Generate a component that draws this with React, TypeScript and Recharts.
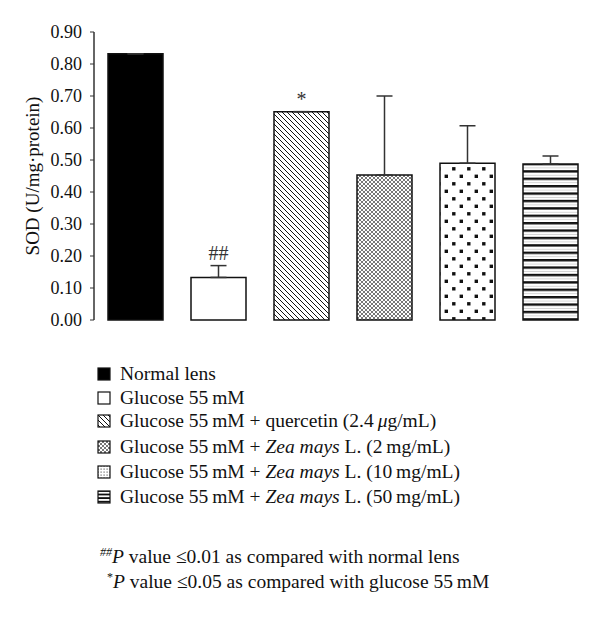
import React from "react";
import {
  BarChart,
  Bar,
  XAxis,
  YAxis,
  Cell,
  ErrorBar,
  ReferenceDot,
  Label,
} from "recharts";

const categories = [
  "Normal lens",
  "Glucose 55 mM",
  "Glucose 55 mM + quercetin (2.4 μg/mL)",
  "Glucose 55 mM + Zea mays L. (2 mg/mL)",
  "Glucose 55 mM + Zea mays L. (10 mg/mL)",
  "Glucose 55 mM + Zea mays L. (50 mg/mL)",
];
const legendPrefix = [
  "Normal lens",
  "Glucose 55\u2009mM",
  "Glucose 55\u2009mM + quercetin (2.4\u2009",
  "Glucose 55\u2009mM + ",
  "Glucose 55\u2009mM + ",
  "Glucose 55\u2009mM + ",
];
const legendItalic = ["", "", "μ", "Zea mays", "Zea mays", "Zea mays"];
const legendSuffix = [
  "",
  "",
  "g/mL)",
  " L. (2\u2009mg/mL)",
  " L. (10\u2009mg/mL)",
  " L. (50\u2009mg/mL)",
];
const sodValues = [0.832, 0.133, 0.651, 0.453, 0.49, 0.4875];
const sodErrors = [0, 0.037, 0, 0.247, 0.117, 0.025];
const sigMarks = ["", "##", "*", "", "", ""];
const yTicks = [0, 0.1, 0.2, 0.3, 0.4, 0.5, 0.6, 0.7, 0.8, 0.9];
const fills = [
  "#000000",
  "#ffffff",
  "url(#diag)",
  "url(#cross)",
  "url(#dots)",
  "url(#stripes)",
];

const data = categories.map((c, i) => ({
  name: c,
  value: sodValues[i],
  err: [0, sodErrors[i]],
}));

const FONT = "'Liberation Serif', 'Times New Roman', serif";

const Patterns = () => (
  <defs>
    <pattern id="diag" width="5" height="5" patternUnits="userSpaceOnUse">
      <rect width="5" height="5" fill="#fff" />
      <path d="M0,0 L5,5 M-1,4 L1,6 M4,-1 L6,1" stroke="#111" strokeWidth="1" />
    </pattern>
    <pattern id="cross" width="4" height="4" patternUnits="userSpaceOnUse">
      <rect width="4" height="4" fill="#fff" />
      <path d="M0,0 L4,4 M4,0 L0,4" stroke="#555" strokeWidth="0.8" />
    </pattern>
    <pattern id="dots" width="15" height="15" patternUnits="userSpaceOnUse">
      <rect width="15" height="15" fill="#fff" />
      <rect x="2.1" y="2.1" width="3.4" height="3.4" fill="#111" />
      <rect x="9.6" y="9.6" width="3.4" height="3.4" fill="#111" />
    </pattern>
    <pattern id="stripes" width="8" height="7.4" patternUnits="userSpaceOnUse">
      <rect width="8" height="7.4" fill="#fff" />
      <rect y="0" width="8" height="2.4" fill="#111" />
      <rect y="4.6" width="8" height="0.6" fill="#bbb" />
    </pattern>
    <pattern id="sdots" width="3" height="3" patternUnits="userSpaceOnUse">
      <rect width="3" height="3" fill="#fff" />
      <rect x="0.5" y="0.5" width="1.2" height="1.2" fill="#666" />
    </pattern>
    <pattern id="sstripes" width="4" height="3.6" patternUnits="userSpaceOnUse">
      <rect width="4" height="3.6" fill="#fff" />
      <rect y="0" width="4" height="1.8" fill="#111" />
    </pattern>
  </defs>
);

const swatchFills = [
  "#000000",
  "#ffffff",
  "url(#diag)",
  "url(#cross)",
  "url(#sdots)",
  "url(#sstripes)",
];

const Swatch = ({ fill }: { fill: string }) => (
  <svg width="14" height="14" style={{ display: "block" }}>
    <rect x="1" y="1" width="12" height="12" fill={fill} stroke="#111" strokeWidth="1.2" />
  </svg>
);

const legendCenters = [374, 398, 421, 447, 472, 497];

export default function App() {
  return (
    <div style={{ position: "absolute", left: 0, top: 0, width: 600, height: 620, background: "#fff" }}>
      <svg width="0" height="0" style={{ position: "absolute" }}>
        <Patterns />
      </svg>
      <BarChart
        width={600}
        height={620}
        data={data}
        margin={{ top: 32, right: 8, left: 0, bottom: 300 }}
        barCategoryGap={14}
      >
        <XAxis
          dataKey="name"
          tick={false}
          tickLine={false}
          height={0}
          axisLine={{ stroke: "#333", strokeWidth: 1.5 }}
        />
        <YAxis
          width={94}
          domain={[0, 0.9]}
          ticks={yTicks}
          tickFormatter={(v: number) => v.toFixed(2)}
          tick={{ fontFamily: FONT, fontSize: 18, fill: "#111" }}
          tickSize={4}
          tickMargin={8}
          tickLine={{ stroke: "#333" }}
          axisLine={{ stroke: "#333", strokeWidth: 1.5 }}
          interval={0}
        >
          <Label
            value="SOD (U/mg·protein)"
            angle={-90}
            position="insideLeft"
            offset={32}
            style={{ fontFamily: FONT, fontSize: 19, fill: "#111", textAnchor: "middle" }}
          />
        </YAxis>
        <Bar dataKey="value" isAnimationActive={false} stroke="#111" strokeWidth={1.5}>
          {data.map((d, i) => (
            <Cell key={d.name} fill={fills[i]} />
          ))}
          <ErrorBar dataKey="err" width={8} stroke="#333" strokeWidth={1.5} direction="y" />
        </Bar>
        {categories.map((c, i) =>
          sigMarks[i] ? (
            <ReferenceDot
              key={c}
              x={c}
              y={sodValues[i] + sodErrors[i]}
              r={0}
              fill="none"
              stroke="none"
              label={{
                value: sigMarks[i],
                position: "top",
                offset: 6,
                style: { fontFamily: FONT, fontSize: 20, fill: "#333" },
              }}
            />
          ) : null
        )}
      </BarChart>
      {categories.map((c, i) => (
        <div
          key={c}
          style={{
            position: "absolute",
            left: 97,
            top: legendCenters[i] - 11,
            height: 22,
            display: "flex",
            alignItems: "center",
            fontFamily: FONT,
            fontSize: 19.5,
            color: "#111",
            whiteSpace: "nowrap",
            lineHeight: "22px",
          }}
        >
          <Swatch fill={swatchFills[i]} />
          <span style={{ marginLeft: 9 }}>
            {legendPrefix[i]}
            {legendItalic[i] ? <i>{legendItalic[i]}</i> : null}
            {legendSuffix[i]}
          </span>
        </div>
      ))}
      <div
        style={{
          position: "absolute",
          left: 100,
          top: 544,
          fontFamily: FONT,
          fontSize: 19.5,
          color: "#111",
          lineHeight: "25px",
          whiteSpace: "nowrap",
        }}
      >
        <div style={{ height: 25 }}>
          <sup style={{ fontSize: 12, lineHeight: 0 }}>
            <i>##</i>
          </sup>
          <i>P</i> value ≤0.01 as compared with normal lens
        </div>
        <div style={{ height: 25 }}>
          <sup style={{ fontSize: 12, lineHeight: 0, marginLeft: 7 }}>*</sup>
          <i>P</i> value ≤0.05 as compared with glucose 55&#8201;mM
        </div>
      </div>
    </div>
  );
}
